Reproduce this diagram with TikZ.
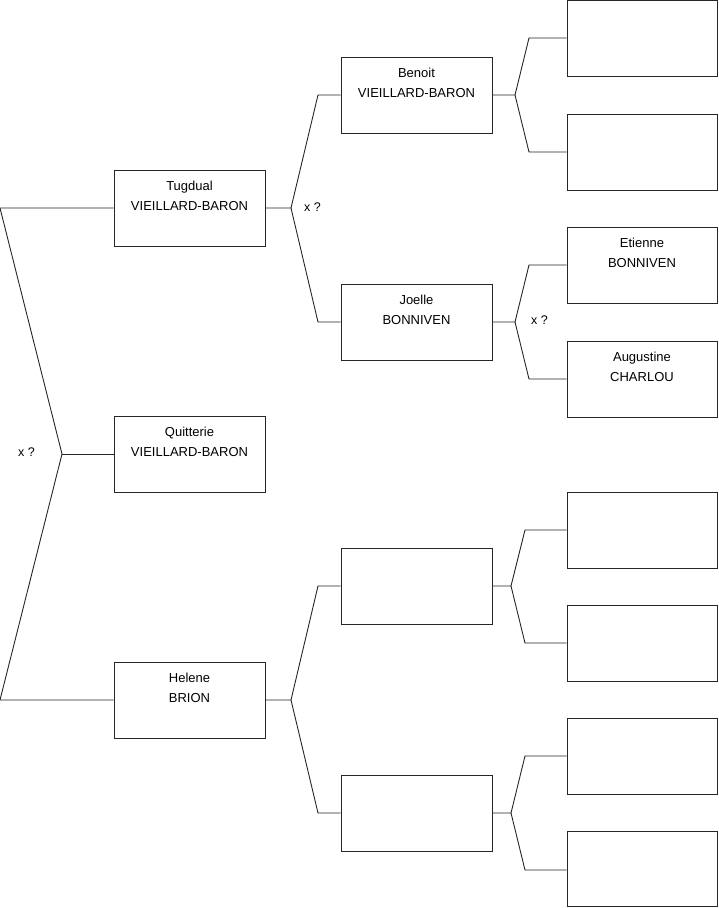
\documentclass[tikz,border=0pt]{standalone}
\usepackage{fontspec}
\setmainfont{Liberation Sans}
\begin{document}
\begin{tikzpicture}[x=1pt,y=-1pt,
  box/.style={draw=black!85,line width=1pt,fill=white,minimum width=151pt,minimum height=76pt,inner sep=0pt},
  txt/.style={align=center,inner sep=0pt,font=\fontsize{13}{20}\selectfont,text=black},
  lbl/.style={inner sep=0pt,font=\fontsize{12.5}{15}\selectfont,text=black},
  conn/.style={draw=black!85,line width=0.9pt}]
\useasboundingbox (0,0) rectangle (719,908);
% column 1
\node[box] (tug) at (189.5,208) {};
\node[box] (qui) at (189.5,454) {};
\node[box] (hel) at (189.5,700) {};
% column 2
\node[box] (ben) at (416.5,95) {};
\node[box] (joe) at (416.5,322) {};
\node[box] (ea) at (416.5,586) {};
\node[box] (eb) at (416.5,813) {};
% column 3
\node[box,minimum width=150pt] (c1) at (642,38.8) {};
\node[box,minimum width=150pt] (c2) at (642,152) {};
\node[box,minimum width=150pt] (c3) at (642,265) {};
\node[box,minimum width=150pt] (c4) at (642,379) {};
\node[box,minimum width=150pt] (c5) at (642,530) {};
\node[box,minimum width=150pt] (c6) at (642,643) {};
\node[box,minimum width=150pt] (c7) at (642,756) {};
\node[box,minimum width=150pt,minimum height=75pt] (c8) at (642,869) {};
% texts
\node[txt] (tugt) at ([yshift=12pt]tug.center) {Tugdual\\VIEILLARD-BARON};
\node[txt] (quit) at ([yshift=12pt]qui.center) {Quitterie\\VIEILLARD-BARON};
\node[txt] (helt) at ([yshift=12pt]hel.center) {Helene\\BRION};
\node[txt] (bent) at ([yshift=12pt]ben.center) {Benoit\\VIEILLARD-BARON};
\node[txt] (joet) at ([yshift=12pt]joe.center) {Joelle\\BONNIVEN};
\node[txt] (c3t) at ([yshift=12pt]c3.center) {Etienne\\BONNIVEN};
\node[txt] (c4t) at ([yshift=12pt]c4.center) {Augustine\\CHARLOU};
% junction coordinates
\coordinate (ra) at (0,208);
\coordinate (rj) at (62,454);
\coordinate (rb) at (0,700);
\coordinate (tj) at (291,208);
\coordinate (t1) at (318,95);
\coordinate (t2) at (318,322);
\coordinate (hj) at (291,700);
\coordinate (h1) at (318,586);
\coordinate (h2) at (318,813);
\coordinate (bj) at (515,95);
\coordinate (b1) at (529,38);
\coordinate (b2) at (529,152);
\coordinate (jj) at (515,322);
\coordinate (j1) at (529,265);
\coordinate (j2) at (529,379);
\coordinate (aj) at (511,586);
\coordinate (a1) at (525,530);
\coordinate (a2) at (525,643);
\coordinate (bbj) at (511,813);
\coordinate (bb1) at (525,756);
\coordinate (bb2) at (525,870);
% connectors
\draw[conn] (tug.west) -- (ra) -- (rj) -- (rb) -- (hel.west);
\draw[conn] (rj) -- (qui.west);
\draw[conn] (tug.east) -- (tj) -- (t1) -- (ben.west);
\draw[conn] (tj) -- (t2) -- (joe.west);
\draw[conn] (hel.east) -- (hj) -- (h1) -- (ea.west);
\draw[conn] (hj) -- (h2) -- (eb.west);
\draw[conn] (ben.east) -- (bj) -- (b1) -- (b1 -| c1.west);
\draw[conn] (bj) -- (b2) -- (c2.west);
\draw[conn] (joe.east) -- (jj) -- (j1) -- (c3.west);
\draw[conn] (jj) -- (j2) -- (c4.west);
\draw[conn] (ea.east) -- (aj) -- (a1) -- (c5.west);
\draw[conn] (aj) -- (a2) -- (c6.west);
\draw[conn] (eb.east) -- (bbj) -- (bb1) -- (c7.west);
\draw[conn] (bbj) -- (bb2) -- (bb2 -| c8.west);
% labels
\node[lbl] (x1) at (26.5,452) {x ?};
\node[lbl] (x2) at (312.5,207) {x ?};
\node[lbl] (x3) at (539.5,320) {x ?};
\end{tikzpicture}
\end{document}
